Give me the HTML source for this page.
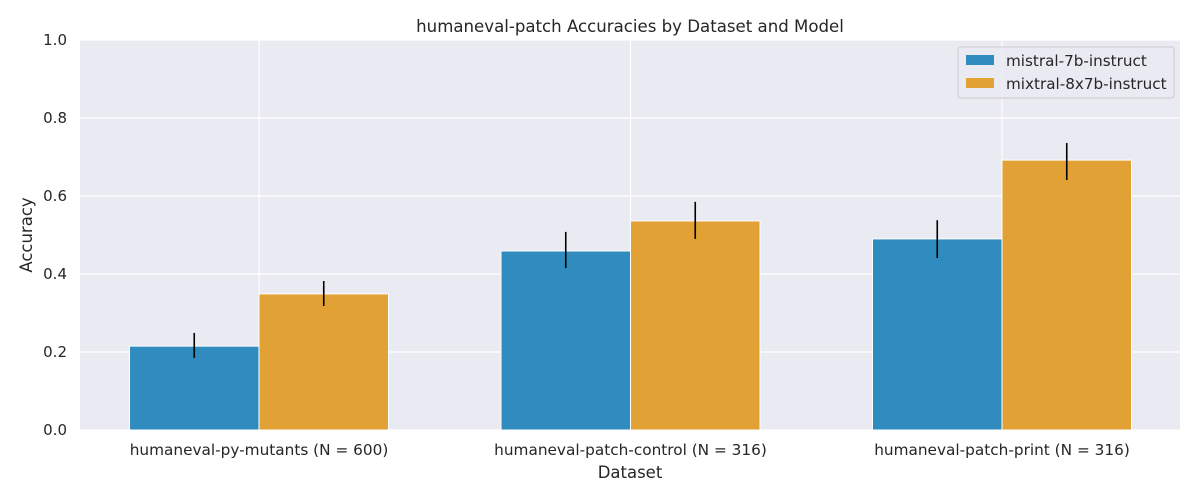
<!DOCTYPE html>
<html><head><meta charset="utf-8"><style>
body{margin:0;background:#fff;font-family:"DejaVu Sans",sans-serif;}
</style></head><body>
<svg id="c" width="1200" height="500" xmlns="http://www.w3.org/2000/svg" font-family="DejaVu Sans, sans-serif">
<rect x="80" y="40" width="1100" height="390" fill="#eaeaf2"/>
<g id="grid"></g><g id="bars"></g><g id="axes"></g>
<text x="630" y="32" text-anchor="middle" font-size="16.6" fill="#262626">humaneval-patch Accuracies by Dataset and Model</text>
<text x="630" y="478" text-anchor="middle" font-size="16.5" fill="#262626">Dataset</text>
<text x="32" y="235" text-anchor="middle" font-size="16.5" fill="#262626" transform="rotate(-90 32 235)">Accuracy</text>
<g>
<rect x="958" y="47" width="216" height="51" rx="3" fill="#eaeaf2" stroke="#cccccc" fill-opacity="0.8"/>
<rect x="966" y="55" width="28" height="10" fill="#308bbf"/>
<text x="1006" y="66" font-size="15.2" fill="#262626">mistral-7b-instruct</text>
<rect x="966" y="78" width="28" height="10" fill="#e1a134"/>
<text x="1006" y="89" font-size="15.2" fill="#262626">mixtral-8x7b-instruct</text>
</g>
</svg>
<script>
const categories=["humaneval-py-mutants (N = 600)","humaneval-patch-control (N = 316)","humaneval-patch-print (N = 316)"];
const mistralValues=[0.215,0.459,0.490];
const mistralLow=[0.185,0.415,0.441];
const mistralHigh=[0.249,0.508,0.538];
const mixtralValues=[0.349,0.536,0.692];
const mixtralLow=[0.318,0.490,0.641];
const mixtralHigh=[0.382,0.585,0.736];
const yTicks=[0,0.2,0.4,0.6,0.8,1.0];
const yTickLabels=["0.0","0.2","0.4","0.6","0.8","1.0"];
const NS="http://www.w3.org/2000/svg";
const y=v=>430-v*390;
const xc=i=>259+i*371.5;
const bw=129.5;
function mk(t,a,p){const e=document.createElementNS(NS,t);for(const k in a)e.setAttribute(k,a[k]);p.appendChild(e);return e;}
const grid=document.getElementById('grid'),bars=document.getElementById('bars'),axes=document.getElementById('axes');
yTicks.forEach((v,i)=>{
 const l=mk('line',{x1:80,x2:1180,y1:y(v),y2:y(v),stroke:'#fff','stroke-width':1.2},grid);
 
 
 const t=mk('text',{x:67,y:y(v)+5,'text-anchor':'end','font-size':15,fill:'#262626'},axes);
 t.textContent=yTickLabels[i];
 
 
});
categories.forEach((c,i)=>{
 const l=mk('line',{x1:xc(i),x2:xc(i),y1:40,y2:430,stroke:'#fff','stroke-width':1.2},grid);
 
 
 const t=mk('text',{x:xc(i),y:455,'text-anchor':'middle','font-size':15.3,fill:'#262626'},axes);
 t.textContent=c;
 
 
 const b1=mk('rect',{x:xc(i)-bw,y:y(mistralValues[i]),width:bw,height:430-y(mistralValues[i]),fill:'#308bbf',stroke:'#fff','stroke-width':1},bars);
 
 
 const b2=mk('rect',{x:xc(i),y:y(mixtralValues[i]),width:bw,height:430-y(mixtralValues[i]),fill:'#e1a134',stroke:'#fff','stroke-width':1},bars);
 
 
 const e1=mk('line',{x1:xc(i)-bw/2,x2:xc(i)-bw/2,y1:y(mistralLow[i]),y2:y(mistralHigh[i]),stroke:'#000','stroke-width':1.6},bars);
 
 
 const e2=mk('line',{x1:xc(i)+bw/2,x2:xc(i)+bw/2,y1:y(mixtralLow[i]),y2:y(mixtralHigh[i]),stroke:'#000','stroke-width':1.6},bars);
 
 
});
</script>
</body></html>
